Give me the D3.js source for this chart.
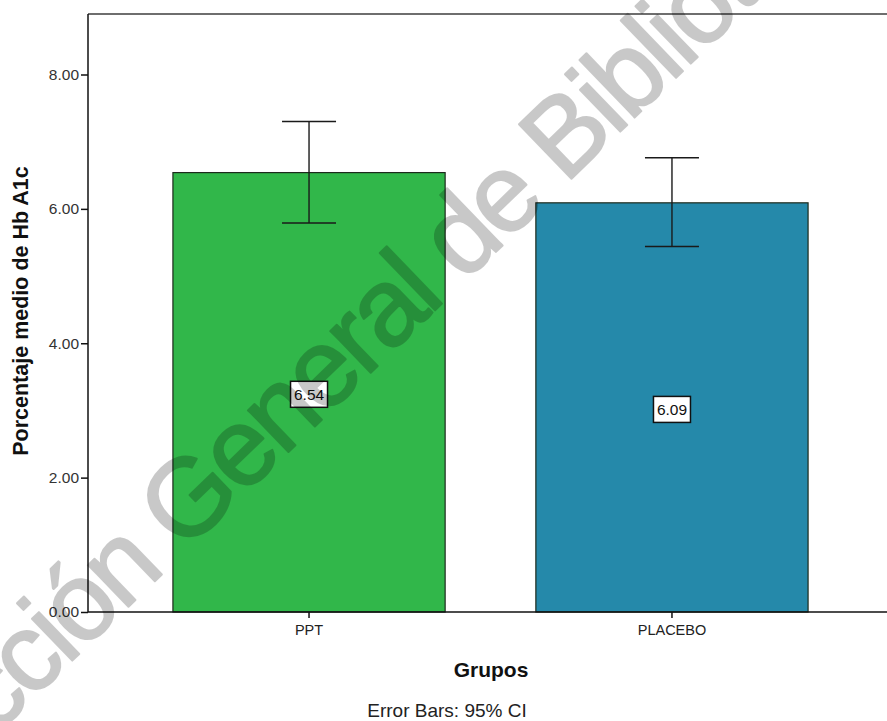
<!DOCTYPE html>
<html><head><meta charset="utf-8">
<script src="https://cdn.jsdelivr.net/npm/d3@7"></script>
<style>html,body{margin:0;padding:0;background:#fff;}svg{display:block;}</style>
</head><body>
<svg id="c" width="887" height="721"></svg>
<script>
const categories = ["PPT", "PLACEBO"];
const means = [6.54, 6.09];
const ciLower = [5.79, 5.44];
const ciUpper = [7.30, 6.76];
const yTicks = [0, 2, 4, 6, 8];
const barColors = ["#31b74a", "#2589aa"];
const yTitle = "Porcentaje medio de Hb A1c";
const xTitle = "Grupos";
const caption = "Error Bars: 95% CI";
const watermark = "Dirección General de Bibliotecas";

const svg = d3.select("#c");
const F = "'Liberation Sans', Arial, sans-serif";
const pLeft = 88, pTop = 14, pBottom = 612, pRight = 893;

const x = d3.scaleBand().domain(categories).range([pLeft, pRight]).paddingInner(0.25).paddingOuter(0.234);
const y = d3.scaleLinear().domain([0, 8]).range([pBottom, 74.5]);

// frame top line
svg.append("line").attr("x1", pLeft).attr("x2", 887).attr("y1", pTop).attr("y2", pTop)
  .attr("stroke", "#6e6e6e").attr("stroke-width", 2);

const data = categories.map((c, i) => ({c, m: means[i], lo: ciLower[i], hi: ciUpper[i], col: barColors[i]}));

// bars
svg.selectAll("rect.bar").data(data).join("rect").attr("class", "bar")
  .attr("x", d => x(d.c)).attr("width", x.bandwidth())
  .attr("y", d => y(d.m)).attr("height", d => y(0) - y(d.m))
  .attr("fill", d => d.col).attr("stroke", "#1c2a1c").attr("stroke-width", 1.2);

// error bars
const eb = svg.selectAll("g.eb").data(data).join("g").attr("class", "eb");
eb.append("line").attr("x1", d => x(d.c) + x.bandwidth()/2).attr("x2", d => x(d.c) + x.bandwidth()/2)
  .attr("y1", d => y(d.hi)).attr("y2", d => y(d.lo)).attr("stroke", "#1a1a1a").attr("stroke-width", 1.4);
eb.selectAll("line.cap").data(d => [[d, d.hi], [d, d.lo]]).join("line").attr("class", "cap")
  .attr("x1", d => x(d[0].c) + x.bandwidth()/2 - 27).attr("x2", d => x(d[0].c) + x.bandwidth()/2 + 27)
  .attr("y1", d => y(d[1])).attr("y2", d => y(d[1])).attr("stroke", "#1a1a1a").attr("stroke-width", 1.4);

// value labels
const vl = svg.selectAll("g.vl").data(data).join("g").attr("class", "vl")
  .attr("transform", d => `translate(${x(d.c) + x.bandwidth()/2},${y(d.m/2) + 2})`);
vl.append("rect").attr("x", -18.5).attr("y", -13).attr("width", 37).attr("height", 26)
  .attr("fill", "#fff").attr("stroke", "#111").attr("stroke-width", 1.5);
vl.append("text").attr("text-anchor", "middle").attr("dy", "0.36em")
  .attr("font-family", F).attr("font-size", 15.5).attr("fill", "#111")
  .text(d => d3.format(".2f")(d.m));

// y axis
const ya = svg.append("g").attr("transform", `translate(${pLeft},0)`)
  .call(d3.axisLeft(y).tickValues(yTicks).tickFormat(d3.format(".2f")).tickSize(7).tickSizeOuter(0));
ya.select(".domain").attr("stroke", "#111").attr("stroke-width", 1.5).attr("d", `M0,${pTop}V${pBottom}`);
ya.selectAll(".tick line").attr("stroke", "#111").attr("stroke-width", 1.5);
ya.selectAll(".tick text").attr("font-family", F).attr("font-size", 15.5).attr("fill", "#333").attr("x", -9);

// x axis
const xa = svg.append("g").attr("transform", `translate(0,${pBottom})`)
  .call(d3.axisBottom(x).tickSize(6).tickSizeOuter(0));
xa.select(".domain").attr("stroke", "#111").attr("stroke-width", 1.5).attr("d", `M${pLeft},0H887`);
xa.selectAll(".tick line").attr("stroke", "#111").attr("stroke-width", 1.5);
xa.selectAll(".tick text").attr("font-family", F).attr("font-size", 14.5).attr("fill", "#222").attr("y", 13);

// titles
svg.append("text").attr("transform", "translate(28,311) rotate(-90)").attr("text-anchor", "middle")
  .attr("font-family", F).attr("font-weight", "bold").attr("font-size", 21.5).attr("fill", "#111").text(yTitle);
svg.append("text").attr("x", 491).attr("y", 677).attr("text-anchor", "middle")
  .attr("font-family", F).attr("font-weight", "bold").attr("font-size", 21).attr("fill", "#111").text(xTitle);
svg.append("text").attr("x", 447).attr("y", 717).attr("text-anchor", "middle")
  .attr("font-family", F).attr("font-size", 19).attr("fill", "#222").text(caption);

// watermark
const wm = svg.append("g").attr("opacity", 0.21);
const wt = wm.append("text").attr("font-family", F).attr("font-size", 110).attr("letter-spacing", -4)
  .attr("fill", "#000").attr("stroke", "#000").attr("stroke-width", 2).attr("stroke-linejoin", "round")
  .text(watermark);
const bIdx = watermark.indexOf("Bibli");
const p = wt.node().getStartPositionOfChar(bIdx);
const tx = 565, ty = 185;
wm.attr("transform", `translate(${tx},${ty}) rotate(-44) translate(${-p.x},${-p.y})`);
</script>
</body></html>
